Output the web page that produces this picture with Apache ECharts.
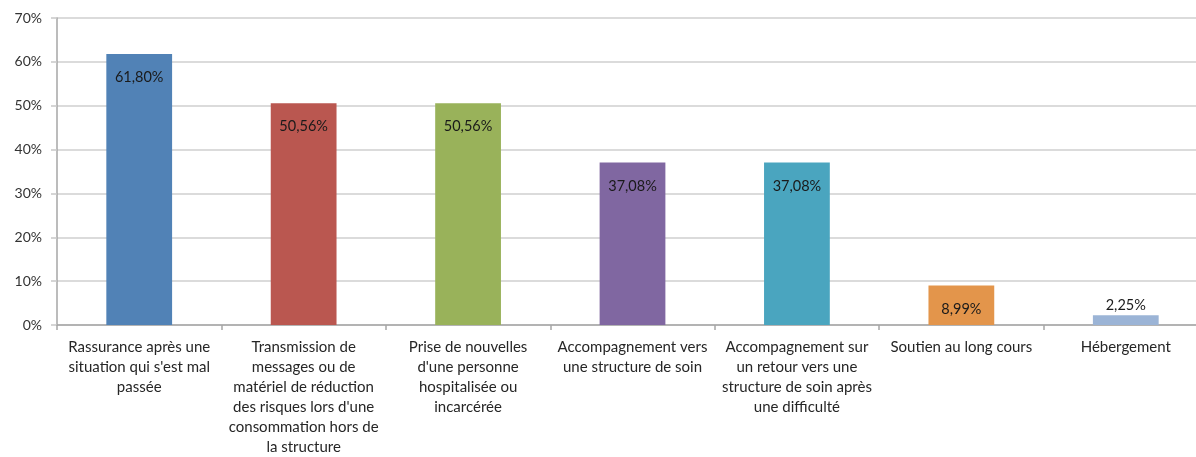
<!DOCTYPE html>
<html>
<head>
<meta charset="utf-8">
<script src="https://cdn.jsdelivr.net/npm/echarts@6/dist/echarts.min.js"></script>
<style>
  html, body { margin: 0; padding: 0; background: #fff; overflow: hidden; }
  #main { width: 1208px; height: 457px; }
</style>
</head>
<body>
<div id="main"></div>
<script>
// Data
const categories = [
  "Rassurance après une\nsituation qui s'est mal\npassée",
  "Transmission de\nmessages ou de\nmatériel de réduction\ndes risques lors d'une\nconsommation hors de\nla structure",
  "Prise de nouvelles\nd'une personne\nhospitalisée ou\nincarcérée",
  "Accompagnement vers\nune structure de soin",
  "Accompagnement sur\nun retour vers une\nstructure de soin après\nune difficulté",
  "Soutien au long cours",
  "Hébergement"
]
const values = [61.80, 50.56, 50.56, 37.08, 37.08, 8.99, 2.25]
const barColors = ['#5182b6', '#ba5750', '#99b25a', '#8067a1', '#4aa5bf', '#e3954b', '#9bb4d6']

const fontFamily = 'Lato, "Open Sans", sans-serif'

// the plot area runs a little past the right edge of the window in the original
const myChart = echarts.init(document.getElementById('main'))

myChart.setOption({
  animation: false,
  textStyle: { fontFamily: fontFamily },
  grid: {
    left: 57,
    right: 0,
    top: 18,
    bottom: 131,
    containLabel: false
  },
  xAxis: {
    type: 'category',
    data: categories,
    axisLine: { lineStyle: { color: '#a6a6a6', width: 1.5 } },
    axisTick: { show: true, length: 5, lineStyle: { color: '#a6a6a6', width: 1.5 } },
    axisLabel: {
      interval: 0,
      margin: 12,
      color: '#262626',
      fontSize: 15,
      lineHeight: 20,
      fontFamily: fontFamily
    }
  },
  yAxis: {
    type: 'value',
    min: 0,
    max: 70,
    interval: 10,
    axisLine: { show: true, lineStyle: { color: '#a6a6a6', width: 1.5 } },
    axisTick: { show: true, length: 6, lineStyle: { color: '#c8c8c8', width: 1.5 } },
    splitLine: { lineStyle: { color: '#cfcfcf', width: 1.5 } },
    axisLabel: {
      margin: 15,
      color: '#333',
      fontSize: 14,
      fontFamily: fontFamily,
      formatter: v => v + '%'
    }
  },
  series: [
    {
      type: 'bar',
      barWidth: '40%',
      data: values.map((v, i) => ({
        value: v,
        itemStyle: { color: barColors[i] },
        label: i === values.length - 1 ? { position: 'top', distance: 2 } : undefined
      })),
      label: {
        show: true,
        position: 'insideTop',
        distance: 16,
        color: '#1a1a1a',
        fontSize: 14.5,
        fontFamily: fontFamily,
        formatter: p => p.value.toFixed(2).replace('.', ',') + '%'
      }
    }
  ]
})
</script>
</body>
</html>
